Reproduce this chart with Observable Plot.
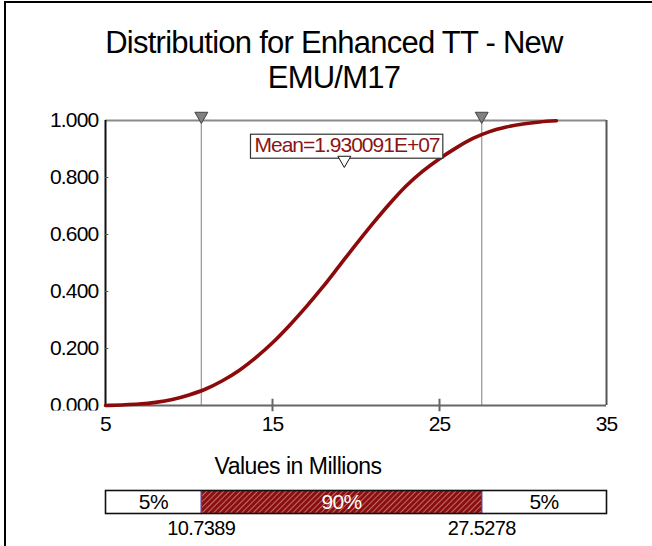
<!DOCTYPE html>
<html><head><meta charset="utf-8">
<script src="https://cdn.jsdelivr.net/npm/d3@7"></script>
<script src="https://cdn.jsdelivr.net/npm/@observablehq/plot@0.6"></script>
<style>
html,body{margin:0;padding:0;background:#fff;overflow:hidden;}
#wrap{position:relative;width:652px;height:546px;overflow:hidden;font-family:"Liberation Sans",Arial,sans-serif;}
#frame{position:absolute;left:4px;top:1px;width:700px;height:600px;border-left:2px solid #000;border-top:2px solid #000;}
#title{position:absolute;left:0;top:25px;width:668px;text-align:center;font-size:31px;line-height:35px;color:#000;letter-spacing:-0.75px;}
#xlabel{position:absolute;left:0;top:453px;width:596px;text-align:center;font-size:23px;color:#000;letter-spacing:-0.5px;}
.pl{position:absolute;left:0;}
</style>
</head><body>
<div id="wrap">
  <div id="frame"></div>
  <div id="title">Distribution for Enhanced TT - New<br>EMU/M17</div>
  <div id="main" class="pl" style="top:0px"></div>
  <div id="xlabel">Values in Millions</div>
  <div id="bar" class="pl" style="top:488px"></div>
</div>
<script>
// ---- data ----
const cdfX = [5, 6, 7, 8, 9, 10, 11, 12, 13, 14, 15, 16, 17, 18, 19, 20, 21, 22, 23, 24, 25, 26, 27, 28, 29, 30, 31, 32];
const cdfP = [0, 0.002, 0.005, 0.011, 0.021, 0.037, 0.058, 0.087, 0.123, 0.168, 0.220, 0.280, 0.345, 0.415, 0.490, 0.565, 0.638, 0.707, 0.770, 0.822, 0.866, 0.904, 0.937, 0.961, 0.977, 0.988, 0.995, 0.999];
const q5 = 10.7389;
const q95 = 27.5278;
const meanValue = 19.30091;
const meanLabel = "Mean=1.930091E+07";
const xTicks = [5, 15, 25, 35];
const yTicks = [0, 0.2, 0.4, 0.6, 0.8, 1.0];
const segStart = [5, q5, q95];
const segEnd = [q5, q95, 35];
const segLabel = ["5%", "90%", "5%"];
const quantileLabels = ["10.7389", "27.5278"];

const curve = cdfX.map((x, i) => ({x, p: cdfP[i]}));
const segments = segStart.map((s, i) => ({x1: s, x2: segEnd[i], label: segLabel[i], mid: i === 1}));
const quants = [q5, q95].map((v, i) => ({v, label: quantileLabels[i]}));

const font = '"Liberation Sans", Arial, sans-serif';
const W = 652;
const SVGNS = "http://www.w3.org/2000/svg";

const main = Plot.plot({
  width: W, height: 440,
  marginTop: 120, marginBottom: 35, marginLeft: 105, marginRight: 46,
  x: {domain: [5, 35]},
  y: {domain: [0, 1]},
  style: {fontFamily: font, fontSize: "21px", color: "#000", background: "transparent", letterSpacing: "-0.8px"},
  marks: [
    Plot.ruleX([q5, q95], {stroke: "#9c9c9c", strokeWidth: 1.3}),
    Plot.ruleY([1], {stroke: "#8a8a8a", strokeWidth: 2}),
    Plot.ruleX([35], {stroke: "#555", strokeWidth: 2}),
    Plot.ruleY([0], {stroke: "#666", strokeWidth: 2}),
    Plot.ruleX([5], {stroke: "#111", strokeWidth: 2}),
    Plot.ruleX(xTicks.slice(1, -1), {y1: -0.022, y2: 0.022, stroke: "#666", strokeWidth: 2}),
    Plot.ruleY(yTicks.slice(1, -1), {x1: 5, x2: 5.2, stroke: "#555", strokeWidth: 1}),
    Plot.line(curve, {x: "x", y: "p", curve: "monotone-x", stroke: "#8c0a0a", strokeWidth: 3.6}),
    Plot.dot([q5, q95], {x: d => d, y: 1, symbol: "triangle", rotate: 180, r: 4.8, fill: "#808080", stroke: "#444", strokeWidth: 1, dy: -4.5}),
    Plot.text([meanValue], {x: d => d + 0.16, frameAnchor: "top", dy: 25, text: () => meanLabel, fill: "#8b1414", fontSize: 21, className: "mean-label", lineAnchor: "middle"}),
    Plot.dot([meanValue], {x: d => d, frameAnchor: "top", dy: 39.5, symbol: "triangle", rotate: 180, r: 4.8, fill: "white", stroke: "#111", strokeWidth: 1}),
    Plot.axisY(yTicks, {tickFormat: d3.format(".3f"), tickSize: 0, tickPadding: 7, fontSize: 21, label: null}),
    Plot.axisX(xTicks, {tickFormat: d => String(d), tickSize: 0, tickPadding: 11, fontSize: 21, label: null})
  ]
});
document.getElementById("main").appendChild(main);

// box behind mean label
{
  const g = main.querySelector("g.mean-label");
  if (g) {
    const t = g.querySelector("text");
    t.setAttribute("letter-spacing", "-1");
    const bb = t.getBBox();
    const r = document.createElementNS(SVGNS, "rect");
    const tr = t.getAttribute("transform");
    if (tr) r.setAttribute("transform", tr);
    r.setAttribute("x", bb.x - 4);
    r.setAttribute("y", bb.y + 1);
    r.setAttribute("width", bb.width + 7);
    r.setAttribute("height", bb.height + 1);
    r.setAttribute("fill", "white");
    r.setAttribute("stroke", "#333");
    r.setAttribute("stroke-width", "1.2");
    g.insertBefore(r, t);
  }
}
// the lowest y tick label is clipped by the x-axis band, as in the reference
{
  const g = main.querySelector('g[aria-label="y-axis tick label"]');
  if (g) {
    const defs = d3.select(main).insert("defs", ":first-child");
    defs.append("clipPath").attr("id", "yclip").attr("clipPathUnits", "userSpaceOnUse")
      .append("rect").attr("x", -200).attr("y", -200).attr("width", 600).attr("height", 610);
    g.setAttribute("clip-path", "url(#yclip)");
  }
}

const bar = Plot.plot({
  width: W, height: 60,
  marginTop: 2, marginBottom: 35, marginLeft: 105, marginRight: 46,
  x: {domain: [5, 35], axis: null},
  style: {fontFamily: font, fontSize: "20px", color: "#000", background: "transparent", letterSpacing: "-0.6px"},
  marks: [
    Plot.rect(segments.filter(d => !d.mid), {x1: "x1", x2: "x2", fill: "white"}),
    Plot.rect(segments.filter(d => d.mid), {x1: "x1", x2: "x2", fill: "url(#hatch)"}),
    Plot.ruleX([q5, q95], {stroke: "#4848a8", strokeWidth: 1.5}),
    Plot.frame({stroke: "#111", strokeWidth: 1.6}),
    Plot.text(segments.filter(d => !d.mid), {x: d => (d.x1 + d.x2) / 2, frameAnchor: "middle", text: "label", fill: "#000", fontSize: 21}),
    Plot.text(segments.filter(d => d.mid), {x: d => (d.x1 + d.x2) / 2, frameAnchor: "middle", text: "label", fill: "white", fontSize: 21}),
    Plot.text(quants, {x: "v", frameAnchor: "bottom", dy: 15, text: "label", fill: "#000", fontSize: 20, lineAnchor: "middle"})
  ]
});
d3.select(bar).insert("defs", ":first-child").html(
  '<pattern id="hatch" width="4" height="4" patternUnits="userSpaceOnUse" patternTransform="rotate(45)">' +
  '<rect width="4" height="4" fill="#8a1010"/>' +
  '<line x1="0.5" y1="0" x2="0.5" y2="4" stroke="#c46a6a" stroke-width="1"/></pattern>'
);
document.getElementById("bar").appendChild(bar);
</script>
</body></html>
